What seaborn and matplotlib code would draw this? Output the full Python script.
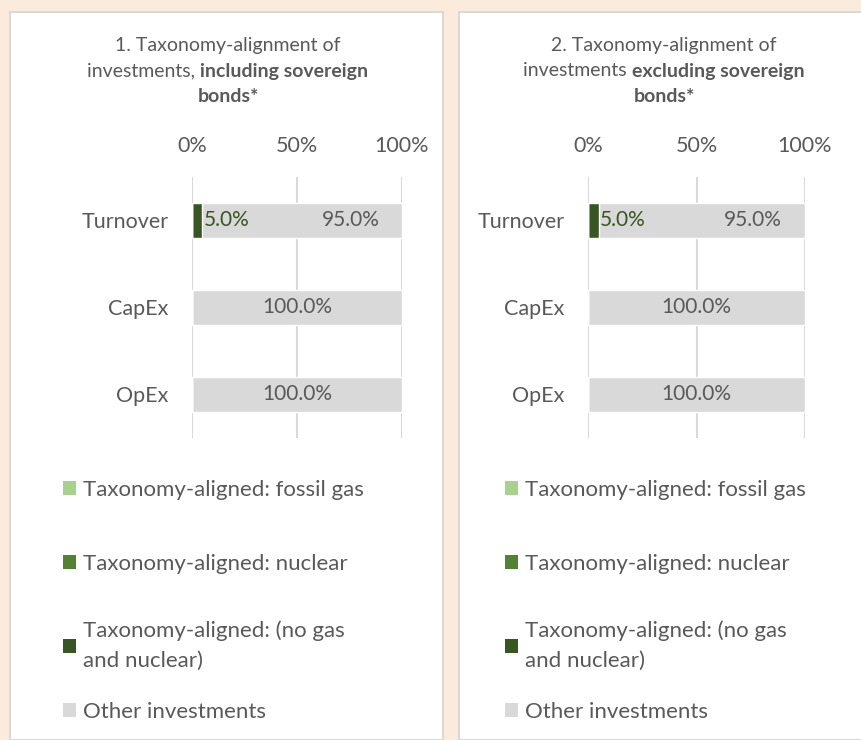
import matplotlib
matplotlib.use("Agg")
import matplotlib.pyplot as plt
from matplotlib.patches import Rectangle, Patch
import pandas as pd
import seaborn as sns

# Datos
categorias = ["Turnover", "CapEx", "OpEx"]
series = ["Taxonomy-aligned: fossil gas", "Taxonomy-aligned: nuclear",
          "Taxonomy-aligned: (no gas\nand nuclear)", "Other investments"]
colores = ["#A9D18E", "#548235", "#375623", "#D9D9D9"]

# panel 1 (incl. sovereign bonds) y panel 2 (excl.)
p1_gas = [0.0, 0.0, 0.0]
p1_nuclear = [0.0, 0.0, 0.0]
p1_no_gas = [5.0, 0.0, 0.0]
p1_otras = [95.0, 100.0, 100.0]

p2_gas = [0.0, 0.0, 0.0]
p2_nuclear = [0.0, 0.0, 0.0]
p2_no_gas = [5.0, 0.0, 0.0]
p2_otras = [95.0, 100.0, 100.0]

ticks = [0, 50, 100]
tick_labels = ["0%", "50%", "100%"]

titulo1 = [[("1. Taxonomy-alignment of", "normal")],
           [("investments, ", "normal"), ("including sovereign", "bold")],
           [("bonds*", "bold")]]
titulo2 = [[("2. Taxonomy-alignment of", "normal")],
           [("investments ", "normal"), ("excluding sovereign", "bold")],
           [("bonds*", "bold")]]

GRIS = "#595959"
FONDO = "#FBEBDC"
FS = 15

# posicion vertical (px) del centro de cada entrada de la leyenda
LEG_Y = [490, 564, 646, 712]

sns.set_theme(style="white")
plt.rcParams["font.family"] = ["Lato", "DejaVu Sans"]

W, H = 862, 740
fig = plt.figure(figsize=(W / 100, H / 100), dpi=100, facecolor=FONDO)


def px(x0, y0, w, h):
    # caja en pixeles (origen arriba-izquierda) -> fraccion de figura
    return [x0 / W, 1 - (y0 + h) / H, w / W, h / H]


# paneles blancos
for x0, w in [(10, 433), (459, 410)]:
    fig.patches.append(Rectangle((x0 / W, 0), w / W, 1 - 12 / H,
                                 transform=fig.transFigure, facecolor="white",
                                 edgecolor="#D9D9D9", lw=1.5, zorder=-5))


def titulo(lineas, xc, y_top):
    r = fig.canvas.get_renderer()
    for i, segs in enumerate(lineas):
        y = 1 - (y_top + i * 26) / H
        objs = []
        for txt, peso in segs:
            t = fig.text(0, y, txt, fontsize=14, color=GRIS, weight=peso,
                         ha="left", va="center")
            objs.append(t)
        anchos = [o.get_window_extent(r).width for o in objs]
        x = xc - sum(anchos) / 2
        for o, a in zip(objs, anchos):
            o.set_x(x / W)
            x += a


def panel(box, gas, nuclear, no_gas, otras, lineas, xc, leg_x):
    ax = fig.add_axes(px(*box))
    df = pd.DataFrame({"cat": categorias, "gas": gas, "nuclear": nuclear,
                       "no_gas": no_gas, "otras": otras})
    # apilado: se dibujan los acumulados de mayor a menor
    df["c3"] = df["gas"] + df["nuclear"] + df["no_gas"] + df["otras"]
    df["c2"] = df["gas"] + df["nuclear"] + df["no_gas"]
    df["c1"] = df["gas"] + df["nuclear"]
    df["c0"] = df["gas"]
    for col, color in zip(["c3", "c2", "c1", "c0"], colores[::-1]):
        sns.barplot(data=df, x=col, y="cat", color=color, orient="h",
                    width=0.4, ax=ax, saturation=1, zorder=3)

    # etiquetas de datos
    for i, fila in df.iterrows():
        if fila["no_gas"] > 0:
            ax.text(fila["c2"] + 0.5, i, f"{fila['no_gas']:.1f}%",
                    color=colores[2], fontsize=FS, ha="left", va="center",
                    zorder=5)
            ax.text(89.5, i, f"{fila['otras']:.1f}%", color=GRIS,
                    fontsize=FS, ha="right", va="center", zorder=5)
        else:
            ax.text(fila["c2"] + fila["otras"] / 2, i, f"{fila['otras']:.1f}%",
                    color=GRIS, fontsize=FS, ha="center", va="center",
                    zorder=5)

    ax.set_xlim(0, 100)
    ax.set_ylim(2.5, -0.5)
    ax.set_xticks(ticks)
    ax.set_xticklabels(tick_labels)
    ax.xaxis.tick_top()
    ax.tick_params(axis="x", length=0, pad=15, labelsize=15.5, labelcolor=GRIS)
    ax.tick_params(axis="y", length=0, pad=17, labelsize=15.5, labelcolor=GRIS)
    ax.set_xlabel("")
    ax.set_ylabel("")
    ax.set_facecolor("none")
    for s in ax.spines.values():
        s.set_visible(False)
    for t in ticks:
        ax.axvline(t, color="#D9D9D9", lw=1.5, zorder=1)

    titulo(lineas, xc, 45)

    # leyenda: una entrada por bloque para respetar el espaciado original
    for color, nombre, y in zip(colores, series, LEG_Y):
        leg = fig.legend([Patch(facecolor=color, edgecolor="none")], [nombre],
                         loc="center left", bbox_to_anchor=(leg_x / W, 1 - y / H),
                         frameon=False, fontsize=16, labelcolor=GRIS,
                         handlelength=0.6, handleheight=0.6, handletextpad=0.3,
                         borderpad=0, borderaxespad=0)
        for t in leg.get_texts():
            t.set_linespacing(1.6)


panel((192, 177, 210, 261), p1_gas, p1_nuclear, p1_no_gas, p1_otras,
      titulo1, 228, 63)
panel((588, 177, 217, 261), p2_gas, p2_nuclear, p2_no_gas, p2_otras,
      titulo2, 664, 505)

fig.savefig("out.png", dpi=100, facecolor=FONDO)
